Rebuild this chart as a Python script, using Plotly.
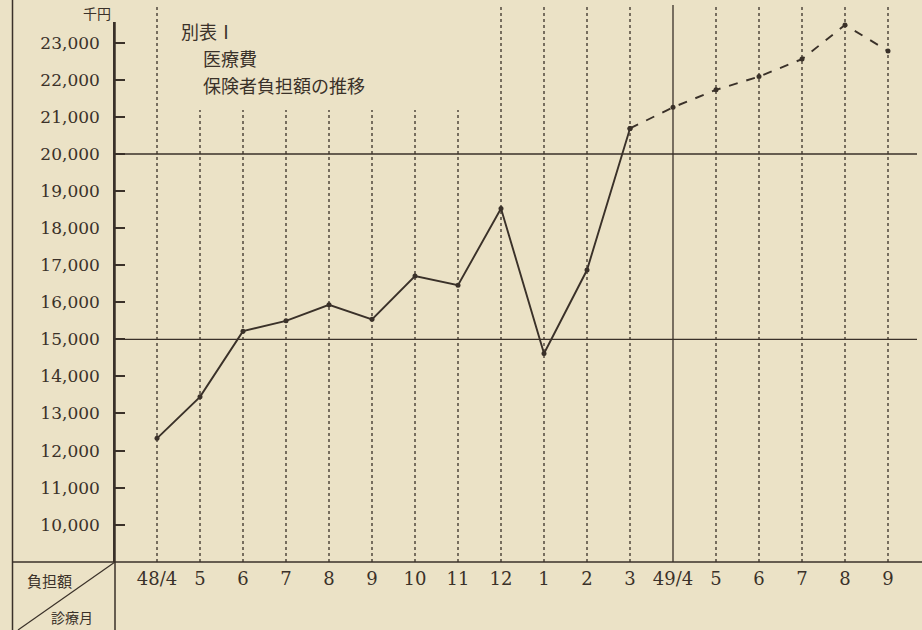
import plotly.graph_objects as go

# ---- data ----
months = ["48/4", "5", "6", "7", "8", "9", "10", "11", "12", "1", "2", "3",
          "49/4", "5", "6", "7", "8", "9"]
burden = [12330, 13450, 15220, 15500, 15930, 15540, 16710, 16460, 18530,
          14620, 16870, 20690, 21260, 21730, 22090, 22560, 23480, 22780]
actual_last = 11          # solid line up to "3", dashed (estimate) afterwards
y_ticks = [10000, 11000, 12000, 13000, 14000, 15000, 16000, 17000, 18000,
           19000, 20000, 21000, 22000, 23000]
y_tick_text = ["10,000", "11,000", "12,000", "13,000", "14,000", "15,000",
               "16,000", "17,000", "18,000", "19,000", "20,000", "21,000",
               "22,000", "23,000"]
ref_lines = [15000, 20000]
title_lines = ["別表Ⅰ", "医療費", "保険者負担額の推移"]

# ---- styling ----
BG = "#ebe2c6"
INK = "#3a3129"
SERIF = "DejaVu Serif"
CJK = "Noto Sans CJK JP"

W, H = 922, 630
ML, MR, MT, MB = 115, 0, 22, 68
PW, PH = W - ML - MR, H - MT - MB

x_idx = list(range(len(months)))

fig = go.Figure()

fig.add_trace(go.Scatter(
    x=x_idx[:actual_last + 1], y=burden[:actual_last + 1],
    mode="lines+markers", line=dict(color=INK, width=1.9),
    marker=dict(size=5, color=INK), cliponaxis=False, showlegend=False))
fig.add_trace(go.Scatter(
    x=x_idx[actual_last:], y=burden[actual_last:],
    mode="lines+markers", line=dict(color=INK, width=1.9, dash="dash"),
    marker=dict(size=5, color=INK), cliponaxis=False, showlegend=False))

shapes = []
# horizontal reference lines
for v in ref_lines:
    shapes.append(dict(type="line", xref="paper", yref="y", x0=0, x1=(917 - ML) / PW,
                       y0=v, y1=v, line=dict(color=INK, width=1.3)))

def py(pix):
    return (H - MB - pix) / PH

def pxp(pix):
    return (pix - ML) / PW

# vertical dotted lines per month (solid one at the fiscal-year change)
for i in x_idx:
    if i == 12:
        shapes.append(dict(type="line", xref="x", yref="paper", x0=i, x1=i,
                           y0=0, y1=py(5), line=dict(color=INK, width=1.3)))
        continue
    top = py(110) if 1 <= i <= 7 else py(5)
    shapes.append(dict(type="line", xref="x", yref="paper", x0=i, x1=i,
                       y0=0, y1=top, line=dict(color=INK, width=1.3, dash="dot")))

# frame: left border, axis extension, bottom line, diagonal
shapes.append(dict(type="line", xref="paper", yref="paper", x0=pxp(12.5), x1=pxp(12.5),
                   y0=py(630), y1=py(0), line=dict(color=INK, width=1.5)))
shapes.append(dict(type="line", xref="paper", yref="paper", x0=0, x1=0,
                   y0=py(630), y1=1, line=dict(color=INK, width=1.5)))
shapes.append(dict(type="line", xref="paper", yref="paper", x0=pxp(12.5), x1=1,
                   y0=0, y1=0, line=dict(color=INK, width=1.5)))
shapes.append(dict(type="line", xref="paper", yref="paper", x0=0, x1=pxp(18),
                   y0=0, y1=py(630), line=dict(color=INK, width=1.2)))

annotations = [
    dict(text="千円", xref="paper", yref="paper", x=pxp(97), y=py(13),
         xanchor="center", yanchor="middle",
         showarrow=False, font=dict(family=CJK, size=14, color=INK)),
    dict(text=title_lines[0], xref="paper", yref="paper", x=pxp(179), y=py(31),
         xanchor="left", yanchor="middle",
         showarrow=False, font=dict(family=CJK, size=18, color=INK)),
    dict(text=title_lines[1], xref="paper", yref="paper", x=pxp(201), y=py(58),
         xanchor="left", yanchor="middle",
         showarrow=False, font=dict(family=CJK, size=18, color=INK)),
    dict(text=title_lines[2], xref="paper", yref="paper", x=pxp(201), y=py(85),
         xanchor="left", yanchor="middle",
         showarrow=False, font=dict(family=CJK, size=18, color=INK)),
    dict(text="負担額", xref="paper", yref="paper", x=pxp(49), y=py(580),
         xanchor="center", yanchor="middle",
         showarrow=False, font=dict(family=CJK, size=15, color=INK)),
    dict(text="診療月", xref="paper", yref="paper", x=pxp(72), y=py(617),
         xanchor="center", yanchor="middle",
         showarrow=False, font=dict(family=CJK, size=14, color=INK)),
]

x0 = -(157 - ML) / 43.0
fig.update_layout(
    width=W, height=H,
    margin=dict(l=ML, r=MR, t=MT, b=MB, pad=0),
    paper_bgcolor=BG, plot_bgcolor=BG,
    shapes=shapes, annotations=annotations, showlegend=False,
    xaxis=dict(range=[x0, x0 + PW / 43.0], tickvals=x_idx, ticktext=months,
               showgrid=False, zeroline=False, showline=False, ticks="",
               tickfont=dict(family=SERIF, size=18, color=INK), ticklabelstandoff=4),
    yaxis=dict(range=[20000 - (H - MB - 154) / 37.07 * 1000,
                      20000 + (154 - MT) / 37.07 * 1000],
               tickvals=y_ticks, ticktext=y_tick_text,
               showgrid=False, zeroline=False, showline=True, linecolor=INK, linewidth=1.5,
               ticks="inside", ticklen=10, tickcolor=INK, tickwidth=1.5,
               tickfont=dict(family=SERIF, size=17, color=INK), ticklabelstandoff=10),
)

fig.write_html("out.html",
               config={"displayModeBar": False},
               post_script="document.body.style.margin='0px';"
                           "document.body.style.overflow='hidden';"
                           "document.body.style.background='" + BG + "';")
